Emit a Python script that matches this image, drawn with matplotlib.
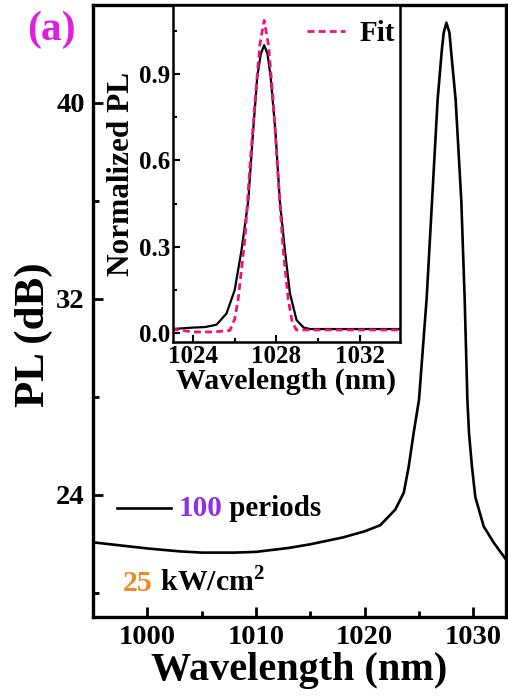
import matplotlib
matplotlib.use('Agg')
import matplotlib.pyplot as plt
from matplotlib.lines import Line2D
from matplotlib.ticker import MultipleLocator

plt.rcParams['font.family'] = ['Liberation Serif', 'DejaVu Serif']
plt.rcParams['font.weight'] = 'bold'
plt.rcParams['mathtext.fontset'] = 'custom'
plt.rcParams['mathtext.bf'] = 'Liberation Serif:bold'

# main spectrum (wavelength nm, PL dB)
wl = [995.0, 997.0, 1000.0, 1003.0, 1005.0, 1008.0, 1010.0, 1013.0, 1015.0,
      1018.0, 1020.0, 1021.44, 1022.82, 1023.6, 1024.05, 1024.5, 1025.0,
      1025.7, 1026.2, 1026.71, 1027.1, 1027.27, 1027.52, 1027.8, 1027.94,
      1028.37, 1028.89, 1029.2, 1029.45, 1029.6, 1029.87, 1030.18, 1030.95,
      1031.87, 1033.0]
pl_db = [22.05, 21.95, 21.8, 21.68, 21.63, 21.63, 21.66, 21.82, 21.97,
         22.25, 22.5, 22.75, 23.39, 24.08, 25.14, 26.5, 27.88,
         32.0, 36.0, 40.12, 42.16, 42.86, 43.27, 42.86, 42.16,
         40.12, 36.0, 32.0, 27.88, 26.5, 25.14, 23.9, 22.7,
         22.04, 21.35]

# inset: normalized PL
wl_in = [1023.0, 1024.0, 1024.6, 1025.13, 1025.61, 1026.0, 1026.33, 1026.65,
         1026.88, 1027.08, 1027.25, 1027.41, 1027.57, 1027.72, 1027.95,
         1028.16, 1028.4, 1028.64, 1028.96, 1029.3, 1029.6, 1034.0]
pl_norm = [0.015, 0.02, 0.022, 0.03, 0.069, 0.15, 0.29, 0.46,
           0.70, 0.89, 0.97, 1.0, 0.97, 0.89, 0.70,
           0.46, 0.29, 0.14, 0.046, 0.02, 0.015, 0.015]

# inset: fit
wl_fit = [1023.0, 1024.0, 1025.0, 1025.77, 1026.0, 1026.17, 1026.49, 1026.73,
          1026.98, 1027.2, 1027.41, 1027.62, 1027.84, 1028.08, 1028.32,
          1028.56, 1028.75, 1028.95, 1030.0, 1034.0]
fit = [0.015, 0.005, 0.005, 0.01, 0.05, 0.12, 0.33, 0.58,
       0.81, 1.0, 1.086, 1.0, 0.81, 0.54, 0.29,
       0.12, 0.04, 0.012, 0.012, 0.012]

fig = plt.figure(figsize=(5.08, 6.96), dpi=100)
ax = fig.add_axes([0.183, 0.1135, 0.813, 0.8795])
ax.plot(wl, pl_db, color='black', lw=1.9)
ax.set_xlim(995, 1033)
ax.set_ylim(19, 44)
ax.xaxis.set_major_locator(MultipleLocator(10))
ax.xaxis.set_minor_locator(MultipleLocator(5))
ax.yaxis.set_major_locator(MultipleLocator(8))
ax.yaxis.set_minor_locator(MultipleLocator(4))
ax.tick_params(which='both', direction='in', width=2, labelsize=20.5, pad=6)
ax.tick_params(which='major', length=7)
ax.tick_params(which='minor', length=4)
for s in ax.spines.values():
    s.set_linewidth(2.4)
ax.set_xlabel('Wavelength (nm)', fontsize=29, fontweight='bold', labelpad=1)
ax.set_ylabel('PL (dB)', fontsize=31, fontweight='bold', labelpad=2, y=0.461)

# legend-like annotations
ax.add_line(Line2D([0.058, 0.19], [0.178, 0.178], transform=ax.transAxes,
                   color='black', lw=1.9))
t1 = ax.text(0.207, 0.178, '100', transform=ax.transAxes, color='#8f2fe8',
             fontsize=21, fontweight='bold', va='center')
ax.annotate(' periods', xy=(1, 0), xycoords=t1, va='bottom', fontsize=21,
            fontweight='bold')
t2 = ax.text(0.073, 0.054, '25', transform=ax.transAxes, color='#f08a24',
             fontsize=21.5, fontweight='bold', va='center')
ax.annotate(' kW/cm$^\\mathbf{2}$', xy=(1, 0), xycoords=t2, va='bottom',
            fontsize=21.5, fontweight='bold')

fig.text(0.053, 0.957, '(a)', color='#e020e0', fontsize=30, fontweight='bold',
         va='center')

# inset
ins = fig.add_axes([0.3406, 0.5086, 0.4464, 0.4844])
ins.plot(wl_in, pl_norm, color='black', lw=1.6)
ins.plot(wl_fit, fit, color='#f0147a', lw=2.0, ls=(0, (2.5, 1.5)), label='Fit')
ins.set_xlim(1023.05, 1033.9)
ins.set_ylim(-0.03, 1.14)
ins.xaxis.set_major_locator(MultipleLocator(4))
ins.xaxis.set_minor_locator(MultipleLocator(2))
ins.set_yticks([0.0, 0.3, 0.6, 0.9])
ins.set_yticklabels(['0.0', '0.3', '0.6', '0.9'])
ins.yaxis.set_minor_locator(MultipleLocator(0.15))
ins.tick_params(which='both', direction='in', width=1.5, labelsize=18, pad=2)
ins.tick_params(which='major', length=5)
ins.tick_params(which='minor', length=3)
for s in ins.spines.values():
    s.set_linewidth(1.8)
ins.set_xlabel('Wavelength (nm)', fontsize=21.5, fontweight='bold', labelpad=0)
ins.set_ylabel('Normalized PL', fontsize=22.5, fontweight='bold', labelpad=2)
ins.legend(loc='upper right', bbox_to_anchor=(1.03, 0.99), frameon=False,
           handlelength=1.3, handletextpad=0.5, borderaxespad=0.0,
           prop={'weight': 'bold', 'size': 21})

fig.savefig('out.png', dpi=100)
